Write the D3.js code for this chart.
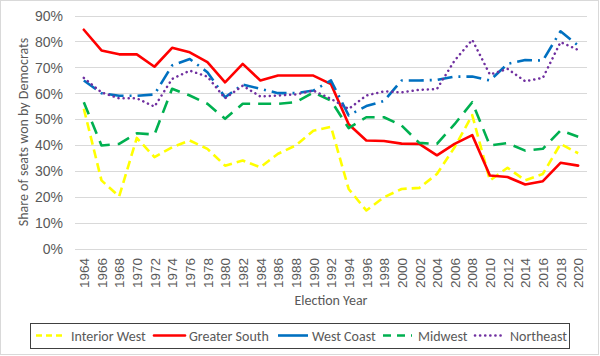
<!DOCTYPE html>
<html><head><meta charset="utf-8">
<script src="https://cdn.jsdelivr.net/npm/d3@7"></script>
<style>body{margin:0;background:#fff}svg{display:block;font-family:Carlito,Calibri,Lato,"Open Sans",sans-serif}</style>
</head><body><svg id="c" width="600" height="356"></svg>
<script>
const years = [1964,1966,1968,1970,1972,1974,1976,1978,1980,1982,1984,1986,1988,1990,1992,1994,1996,1998,2000,2002,2004,2006,2008,2010,2012,2014,2016,2018,2020];
const interiorWest = [54,26.3,20.1,42.7,35.3,39.1,41.7,38.5,32,34,31.4,36.6,39.8,45.5,47,23,14.7,19.8,23,23.4,28.8,39.1,51.5,26.3,31.2,26.3,28.8,40.4,36.8];
const greaterSouth = [84.5,76.5,75,75,70.2,77.5,75.8,72,64.2,71.3,64.9,66.8,66.8,66.8,63.5,48,41.7,41.5,40.5,40.4,36,40.4,43.8,28.2,27.6,24.7,26,33.1,32];
const westCoast = [64.9,60,59,59,59.5,70.7,73.2,68.1,58.4,63.3,61.7,60,60,61,64.9,51.4,55,57,64.9,64.9,65.1,66.4,66.4,64.9,71.3,72.8,72.6,83.9,78.4];
const midwest = [56.5,39.8,40.4,44.5,44,61.7,59.1,55.9,50.1,55.9,55.9,55.9,56.5,60.3,57.1,46.5,50.7,50.7,47.5,40.8,40.4,48,56.5,39.8,40.7,37.8,38.5,45.6,43.2];
const northeast = [65.9,60.3,58,58,54.8,65.5,68.7,66.4,58,62.9,58.7,59.1,59.5,61,57.8,53.9,59.1,60.7,60.3,61.3,61.6,72.6,80.6,67.2,69.4,64.6,65.9,79.7,76.7];
const seriesNames = ["Interior West","Greater South","West Coast","Midwest","Northeast"];
const yTicks = [0,10,20,30,40,50,60,70,80,90];

const styles = {
  "Interior West": {c:"#ffff00", d:"9,5", cap:"butt"},
  "Greater South": {c:"#ff0000", d:null, cap:"round"},
  "West Coast": {c:"#0070c0", d:"15,6,2,6", cap:"butt"},
  "Midwest": {c:"#00b050", d:"13,8", cap:"butt"},
  "Northeast": {c:"#7030a0", d:"0.1,5", cap:"round"}
};
const data = [interiorWest, greaterSouth, westCoast, midwest, northeast];

const svg = d3.select("#c");
svg.append("rect").attr("x",0.5).attr("y",0.5).attr("width",598).attr("height",354)
  .attr("fill","#fff").attr("stroke","#d9d9d9");

const x = d3.scalePoint().domain(years).range([75,587]).padding(0.5);
const y = d3.scaleLinear().domain([0,90]).range([248.5,15.5]);

// gridlines
svg.append("g").selectAll("line").data(yTicks).join("line")
  .attr("x1",75).attr("x2",587).attr("y1",d=>Math.round(y(d))+0.5).attr("y2",d=>Math.round(y(d))+0.5)
  .attr("stroke","#d9d9d9").attr("stroke-width",1);

// y axis labels
const yAxis = d3.axisLeft(y).tickValues(yTicks).tickFormat(d=>d+"%").tickSize(0).tickPadding(0);
const ga = svg.append("g").attr("transform","translate(63,0)").call(yAxis);
ga.select(".domain").remove();
ga.selectAll("text").attr("fill","#595959").style("font-size","14px").attr("dy","0.35em");

// x axis labels
const xAxis = d3.axisBottom(x).tickSize(0).tickPadding(0);
const gx = svg.append("g").attr("transform","translate(0,258)").call(xAxis);
gx.select(".domain").remove();
gx.selectAll("text").attr("fill","#595959").style("font-size","13.5px")
  .attr("transform","rotate(-90)").attr("text-anchor","end").attr("x",0).attr("y",0).attr("dy","0.35em");

// axis titles
svg.append("text").attr("x",331).attr("y",305).attr("text-anchor","middle")
  .attr("fill","#595959").style("font-size","14px").text("Election Year");
svg.append("text").attr("transform","translate(28,132) rotate(-90)").attr("text-anchor","middle")
  .attr("fill","#595959").style("font-size","14px").text("Share of seats won by Democrats");

// lines
const line = d3.line().x((d,i)=>x(years[i])).y(d=>y(d));
seriesNames.forEach((n,k)=>{
  const s = styles[n];
  svg.append("path").datum(data[k]).attr("d",line).attr("fill","none")
    .attr("stroke",s.c).attr("stroke-width",n==="Northeast"?2.5:2.6)
    .attr("stroke-dasharray",s.d).attr("stroke-linecap",s.cap).attr("stroke-linejoin","round");
});

// legend
svg.append("rect").attr("x",30.5).attr("y",323.5).attr("width",539).attr("height",25)
  .attr("fill","#fff").attr("stroke","#404040").attr("stroke-width",1);
const legPos = [{lx:36,lw:29,tx:71},{lx:154,lw:31,tx:189},{lx:278,lw:30,tx:312},{lx:383,lw:29,tx:418},{lx:475,lw:29,tx:510}];
seriesNames.forEach((n,k)=>{
  const s = styles[n], p = legPos[k];
  svg.append("line").attr("x1",p.lx).attr("x2",p.lx+p.lw).attr("y1",335.5).attr("y2",335.5)
    .attr("stroke",s.c).attr("stroke-width",2.6)
    .attr("stroke-dasharray",n==="Interior West"?"6,4":n==="West Coast"?null:n==="Midwest"?"8,6":s.d)
    .attr("stroke-linecap",s.cap);
  svg.append("text").attr("x",p.tx).attr("y",336).attr("dy","0.35em")
    .attr("fill","#595959").style("font-size","14px").text(n);
});
</script></body></html>
